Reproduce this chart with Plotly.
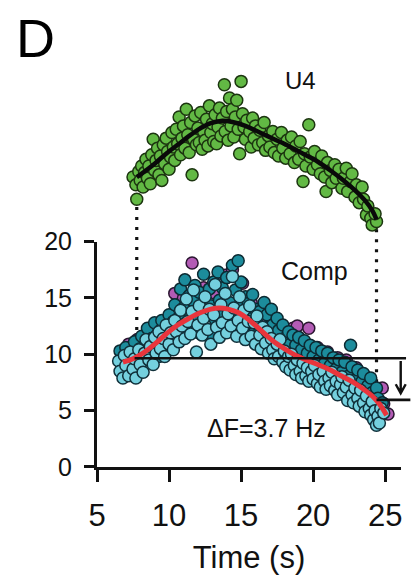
import plotly.graph_objects as go

# ---------------- data ----------------
# U4 unit firing rate (Hz) vs time (s)
u4_t = [7.5, 7.7, 7.76, 7.9, 8.0, 8.1, 8.2, 8.3, 8.4, 8.5, 8.6, 8.7, 8.8, 8.9, 9.0, 9.1, 9.2, 9.3, 9.5, 9.4,
        9.6, 9.7, 9.8, 9.9, 10.0, 10.1, 10.2, 10.3, 10.4, 10.5, 10.6, 10.7, 10.8, 10.9, 11.0, 11.1, 11.2, 11.3,
        11.4, 11.5, 11.6, 11.7, 11.8, 11.9, 12.0, 12.1, 12.2, 12.3, 12.4, 12.5, 12.6, 12.7, 12.8, 12.9, 13.0,
        13.1, 13.2, 13.3, 13.4, 13.5, 13.6, 13.7, 13.84, 13.9, 14.0, 14.1, 14.2, 14.3, 14.4, 14.5, 14.6, 14.7,
        14.8, 14.9, 15.0, 15.1, 15.2, 15.3, 15.4, 15.6, 15.7, 15.8, 15.9, 16.0, 16.2, 16.3, 16.5, 16.6, 16.7,
        16.9, 17.0, 17.2, 17.3, 17.5, 17.6, 17.8, 17.9, 18.1, 18.2, 18.4, 18.5, 18.7, 18.8, 19.0, 19.1, 19.3,
        19.4, 19.5, 19.7, 19.8, 20.0, 20.1, 20.3, 20.5, 20.6, 20.8, 20.9, 21.0, 21.2, 21.3, 21.5, 21.6, 21.8,
        22.0, 22.1, 22.3, 22.4, 22.6, 22.7, 22.9, 23.0, 23.2, 23.4, 23.5, 23.7, 23.8, 24.0, 24.1, 24.4, 24.3]
u4_f = [12.9, 12.2, 10.9, 13.4, 12.6, 13.9, 12.0, 13.3, 14.5, 12.8, 13.9, 12.3, 14.9, 16.3, 13.5, 14.4, 15.5, 13.1, 12.6, 14.8,
        15.8, 14.1, 16.4, 15.2, 13.6, 14.7, 16.9, 15.6, 14.4, 17.2, 15.9, 18.3, 14.9, 16.4, 17.5, 15.5, 19.0, 16.7,
        15.1, 17.8, 13.1, 16.3, 18.4, 15.8, 17.3, 16.0, 18.7, 15.4, 17.0, 16.2, 18.1, 15.7, 19.3, 16.9, 17.7,
        16.1, 18.5, 15.9, 17.4, 19.1, 16.6, 18.2, 21.2, 17.0, 18.8, 16.2, 20.0, 17.5, 19.0, 16.5, 18.3, 19.8,
        17.2, 15.0, 21.5, 18.6, 17.4, 16.3, 18.0, 17.0, 15.6, 18.2, 16.4, 17.5, 15.8, 17.1, 16.0, 17.8, 15.3,
        16.6, 15.6, 17.0, 15.1, 16.3, 14.8, 16.9, 15.5, 14.6, 16.2, 15.0, 16.5, 14.2, 15.7, 14.5, 16.1, 12.5,
        15.0, 13.9, 17.6, 14.7, 13.6, 15.2, 14.0, 13.2, 14.8, 12.9, 11.6, 14.2, 13.5, 12.4, 14.0, 12.8, 13.6,
        11.9, 12.8, 13.7, 11.6, 12.5, 13.2, 11.1, 12.2, 10.6, 12.0, 10.9, 9.5, 10.3, 9.2, 8.6, 8.9, 9.6]
# smoothed U4 rate
u4_fit_t = [7.76, 8.3, 9.0, 9.8, 10.6, 11.4, 12.2, 12.9, 13.6, 14.4, 15.3, 16.3, 17.3, 18.3, 19.3, 20.3,
            21.3, 22.2, 23.0, 23.6, 24.1, 24.4]
u4_fit_f = [12.9, 13.4, 14.1, 15.0, 15.8, 16.6, 17.3, 17.75, 17.95, 17.85, 17.5, 16.9, 16.3, 15.7, 15.0, 14.3,
            13.4, 12.5, 11.6, 10.8, 9.9, 9.1]

# composite discharge: three superimposed units
comp_a_t = [7.2, 7.8, 8.7, 9.6, 10.4, 11.0, 11.6, 12.4, 13.2, 13.9, 14.4, 15.1, 15.7, 16.6, 17.5, 18.4,
            18.6, 18.9, 19.7, 20.3, 21.0, 21.7, 22.3, 23.0, 23.6, 24.0, 24.8, 24.9, 25.2]
comp_a_f = [10.9, 11.3, 11.9, 12.8, 15.4, 15.0, 18.1, 15.9, 15.4, 17.0, 17.5, 16.3, 14.6, 13.2, 12.6, 11.8,
            12.3, 12.5, 12.3, 10.6, 10.2, 9.7, 9.5, 8.8, 7.8, 7.4, 7.0, 5.6, 4.7]

comp_b_t = [6.6, 6.7, 6.9, 7.0, 7.1, 7.2, 7.4, 7.5, 7.6, 7.8, 7.9, 8.0, 8.1, 8.3, 8.4, 8.5, 8.6, 8.8, 8.9,
            9.0, 9.1, 9.3, 9.4, 9.5, 9.6, 9.8, 9.9, 10.0, 10.2, 10.3, 10.4, 10.5, 10.7, 10.8, 10.9, 11.0,
            11.1, 11.2, 11.4, 11.5, 11.6, 11.7, 11.8, 12.0, 12.1, 12.2, 12.3, 12.4, 12.6, 12.7, 12.8, 12.9,
            13.0, 13.1, 13.2, 13.4, 13.5, 13.6, 13.7, 13.8, 14.0, 14.1, 14.2, 14.4, 14.5, 14.6, 14.7, 14.8,
            14.9, 15.0, 15.1, 15.3, 15.4, 15.5, 15.7, 15.8, 15.9, 16.0, 16.2, 16.3, 16.4, 16.6, 16.7, 16.8,
            17.0, 17.1, 17.2, 17.4, 17.5, 17.6, 17.8, 17.9, 18.0, 18.2, 18.3, 18.4, 18.6, 18.7, 18.8, 19.0,
            19.1, 19.2, 19.4, 19.5, 19.6, 19.8, 19.9, 20.0, 20.2, 20.3, 20.4, 20.6, 20.7, 20.8, 21.0, 21.1,
            21.2, 21.4, 21.5, 21.6, 21.8, 21.9, 22.0, 22.2, 22.3, 22.5, 22.6, 22.7, 22.8, 23.0, 23.1, 23.2,
            23.4, 23.5, 23.6, 23.8, 23.9, 24.0, 24.1, 24.3, 24.4, 24.5, 24.7, 24.8]
comp_b_f = [10.3, 9.1, 8.7, 10.6, 9.6, 8.4, 10.0, 9.2, 11.1, 9.7, 8.8, 10.5, 11.6, 9.9, 10.9, 12.3, 9.5, 11.4, 10.2,
            12.8, 11.1, 9.8, 12.1, 13.0, 11.0, 12.4, 10.6, 13.5, 11.7, 12.9, 14.4, 11.3, 13.3, 15.8, 12.4, 14.1,
            16.6, 12.8, 15.2, 13.6, 11.9, 14.7, 16.1, 13.0, 15.5, 11.8, 14.0, 17.1, 13.6, 12.1, 15.8, 14.3,
            11.6, 16.4, 13.1, 17.3, 14.8, 12.3, 15.9, 13.6, 16.8, 12.9, 14.6, 17.9, 13.4, 15.7, 12.2, 18.3,
            14.2, 16.4, 13.0, 15.1, 12.4, 14.5, 13.2, 15.3, 11.9, 14.0, 12.6, 13.8, 11.4, 14.6, 12.4, 13.5,
            11.8, 14.0, 12.6, 11.1, 13.2, 12.1, 10.7, 12.6, 11.4, 10.3, 12.0, 10.9, 11.7, 9.9, 10.8, 11.5,
            9.6, 10.4, 11.2, 9.4, 10.1, 10.8, 9.0, 9.8, 10.6, 8.9, 9.5, 10.3, 8.6, 9.2, 10.1, 8.3,
            9.0, 9.7, 7.9, 8.7, 9.5, 7.6, 8.4, 9.3, 7.5, 8.1, 10.8, 8.9, 7.2, 7.8, 8.6, 6.9,
            7.6, 8.3, 6.5, 7.2, 5.9, 7.9, 6.6, 5.5, 7.0, 6.1, 5.0, 5.7]

comp_c_t = [6.5, 6.6, 6.8, 6.9, 7.0, 7.2, 7.3, 7.5, 7.6, 7.7, 7.9, 8.0, 8.2, 8.3, 8.4, 8.6, 8.7, 8.9, 9.0,
            9.1, 9.3, 9.4, 9.6, 9.7, 9.8, 10.0, 10.1, 10.3, 10.4, 10.5, 10.7, 10.8, 10.9, 11.1, 11.2, 11.3,
            11.5, 11.6, 11.7, 11.9, 12.0, 12.1, 12.3, 12.4, 12.5, 12.7, 12.8, 12.9, 13.1, 13.2, 13.3, 13.5,
            13.6, 13.7, 13.9, 14.0, 14.1, 14.3, 14.4, 14.5, 14.7, 14.8, 14.9, 15.1, 15.2, 15.3, 15.5, 15.6,
            15.7, 15.9, 16.0, 16.1, 16.3, 16.4, 16.5, 16.7, 16.8, 16.9, 17.1, 17.2, 17.3, 17.5, 17.6, 17.7,
            17.9, 18.0, 18.1, 18.3, 18.4, 18.5, 18.7, 18.8, 18.9, 19.1, 19.2, 19.3, 19.5, 19.6, 19.7, 19.9,
            20.0, 20.1, 20.3, 20.4, 20.5, 20.7, 20.8, 20.9, 21.1, 21.2, 21.3, 21.5, 21.6, 21.7, 21.9, 22.0,
            22.1, 22.3, 22.4, 22.5, 22.7, 22.8, 22.9, 23.1, 23.2, 23.3, 23.5, 23.6, 23.7, 23.9, 24.0, 24.1,
            24.2, 24.3, 24.4, 24.5, 24.6, 24.7, 24.9]
comp_c_f = [9.4, 8.5, 7.9, 9.9, 9.0, 8.1, 10.2, 8.7, 9.6, 7.9, 10.4, 9.1, 8.4, 10.1, 11.3, 9.5, 10.7, 9.1, 11.5,
            10.1, 12.0, 10.5, 11.4, 9.8, 12.6, 10.9, 11.9, 10.4, 13.0, 12.0, 11.1, 13.9, 12.5, 11.4, 14.9, 12.9,
            11.8, 13.8, 15.7, 10.2, 12.6, 14.3, 11.7, 13.2, 15.1, 12.2, 14.0, 10.9, 13.5, 16.2, 12.4, 11.5,
            14.4, 12.8, 15.4, 11.9, 13.6, 12.5, 16.9, 14.1, 11.6, 13.0, 15.1, 12.3, 13.9, 11.3, 12.9, 14.3,
            11.6, 12.8, 10.9, 13.4, 11.7, 10.5, 12.4, 11.0, 12.0, 10.1, 11.4, 10.4, 9.6, 10.9, 9.8, 11.3,
            9.3, 10.3, 8.9, 9.8, 8.6, 10.0, 9.0, 8.2, 9.5, 8.5, 7.9, 9.2, 8.1, 8.8, 7.6, 8.5,
            7.8, 9.0, 7.4, 8.2, 7.1, 8.5, 7.6, 6.9, 7.9, 7.2, 8.4, 6.8, 7.6, 6.4, 7.3, 8.0,
            6.6, 7.1, 5.9, 7.7, 6.4, 5.7, 7.0, 6.1, 5.4, 6.8, 5.7, 4.9, 6.3, 5.2, 4.6, 5.8,
            4.2, 5.0, 3.7, 4.5, 3.9, 5.2, 4.8]

# smoothed composite rate
comp_fit_t = [6.8, 7.5, 8.2, 9.0, 9.8, 10.6, 11.4, 12.2, 12.9, 13.5, 14.1, 14.8, 15.6, 16.4, 17.2, 18.0,
              18.8, 19.6, 20.4, 21.2, 22.0, 22.8, 23.5, 24.1, 24.6, 25.1]
comp_fit_f = [9.3, 9.6, 10.1, 10.9, 11.8, 12.6, 13.2, 13.7, 14.0, 14.1, 14.0, 13.7, 13.0, 12.1, 11.2, 10.5,
              9.9, 9.45, 9.05, 8.6, 8.05, 7.5, 6.9, 6.3, 5.6, 4.6]

# rate drop between recruitment and derecruitment
T_ON, T_OFF = 7.76, 24.4
BASE_RATE = 9.65
DELTA_F = 3.7

x_ticks = [5, 10, 15, 20, 25]
y_ticks = [0, 5, 10, 15, 20]

# ---------------- geometry ----------------
FONT = "Liberation Sans, Arial, sans-serif"
INK = "#111111"
W, H = 411, 579
M = dict(l=97, r=9, t=20, b=112)
X_RANGE = [5, 26.1]
Y_RANGE = [0, 20]
Y_DOM = [0, 0.5078]
Y2_RANGE = [7.5, 23.5]
Y2_DOM = [0.5177, 0.9186]
PW = W - M["l"] - M["r"]
PH = H - M["t"] - M["b"]


def xp(t):
    return (t - X_RANGE[0]) / (X_RANGE[1] - X_RANGE[0])


def yp(v, rng=Y_RANGE, dom=Y_DOM):
    return dom[0] + (v - rng[0]) / (rng[1] - rng[0]) * (dom[1] - dom[0])


def y2p(v):
    return yp(v, Y2_RANGE, Y2_DOM)


def dots(fill, edge):
    return dict(size=12, color=fill, line=dict(color=edge, width=1.5))


fig = go.Figure()

# U4 panel
fig.add_trace(go.Scatter(x=u4_t, y=u4_f, mode="markers", yaxis="y2", cliponaxis=False,
                         marker=dots("#62b944", "#1c3510")))
fig.add_trace(go.Scatter(x=u4_fit_t, y=u4_fit_f, mode="lines", yaxis="y2", cliponaxis=False,
                         line=dict(color="#0a0a0a", width=4.5, shape="spline", smoothing=1.0)))

# composite panel: purple unit at the back, dark teal, then light cyan on top
fig.add_trace(go.Scatter(x=comp_a_t, y=comp_a_f, mode="markers", cliponaxis=False,
                         marker=dots("#b35bb5", "#2a1630")))
fig.add_trace(go.Scatter(x=comp_b_t, y=comp_b_f, mode="markers", cliponaxis=False,
                         marker=dots("#1c8c9c", "#0c2a32")))
fig.add_trace(go.Scatter(x=comp_c_t, y=comp_c_f, mode="markers", cliponaxis=False,
                         marker=dots("#74d0de", "#10303a")))
fig.add_trace(go.Scatter(x=comp_fit_t, y=comp_fit_f, mode="lines", cliponaxis=False,
                         line=dict(color="#e8353c", width=5, shape="spline", smoothing=1.0)))

shapes = []
dotted = dict(color=INK, width=3.2, dash="3px,7px")
# dotted links between the two panels at recruitment / derecruitment
shapes.append(dict(type="line", xref="paper", yref="paper", layer="below",
                   x0=xp(T_ON), x1=xp(T_ON), y0=y2p(u4_fit_f[0]), y1=yp(BASE_RATE), line=dotted))
shapes.append(dict(type="line", xref="paper", yref="paper", layer="below",
                   x0=xp(T_OFF), x1=xp(T_OFF), y0=y2p(u4_fit_f[-1]), y1=yp(BASE_RATE - DELTA_F), line=dotted))
# reference levels for the rate drop
solid = dict(color=INK, width=2.6)
shapes.append(dict(type="line", xref="paper", yref="paper", layer="above",
                   x0=xp(T_ON - 0.15), x1=xp(26.45), y0=yp(BASE_RATE), y1=yp(BASE_RATE), line=solid))
shapes.append(dict(type="line", xref="paper", yref="paper", layer="above",
                   x0=xp(T_OFF), x1=xp(26.75), y0=yp(BASE_RATE - DELTA_F), y1=yp(BASE_RATE - DELTA_F), line=solid))
# downward arrow
ax = xp(26.08)
a_top = yp(BASE_RATE - 0.25)
a_tip = yp(BASE_RATE - DELTA_F + 0.6)
hx, hy = 5 / PW, 9 / PH
shapes.append(dict(type="path", xref="paper", yref="paper", layer="above",
                   path=f"M {ax},{a_top} L {ax},{a_tip} M {ax - hx},{a_tip + hy} L {ax},{a_tip} L {ax + hx},{a_tip + hy}",
                   line=dict(color=INK, width=2.4)))

annotations = [
    dict(text="D", xref="paper", yref="paper", x=(35 - M["l"]) / PW, y=(H - M["b"] - 3) / PH,
         showarrow=False, font=dict(family=FONT, size=54, color="#000000"), xanchor="center", yanchor="top"),
    dict(text="U4", xref="x", yref="y2", x=19.1, y=21.6, showarrow=False,
         font=dict(family=FONT, size=24, color=INK), xanchor="center", yanchor="middle"),
    dict(text="Comp", xref="x", yref="y", x=20.07, y=17.36, showarrow=False,
         font=dict(family=FONT, size=25, color=INK), xanchor="center", yanchor="middle"),
    dict(text=f"\u0394F={DELTA_F} Hz", xref="x", yref="y", x=16.76, y=3.44, showarrow=False,
         font=dict(family=FONT, size=25, color=INK), xanchor="center", yanchor="middle"),
]

fig.update_layout(
    width=W, height=H, margin=M, showlegend=False,
    paper_bgcolor="white", plot_bgcolor="white",
    font=dict(family=FONT, color=INK),
    xaxis=dict(range=X_RANGE, tickvals=x_ticks, showgrid=False, zeroline=False,
               showline=True, linecolor=INK, linewidth=3,
               ticks="outside", ticklen=12, tickwidth=3, tickcolor=INK,
               tickfont=dict(family=FONT, size=31, color=INK), ticklabelstandoff=7,
               title=dict(text="Time (s)", font=dict(family=FONT, size=31, color=INK), standoff=15),
               anchor="y"),
    yaxis=dict(range=Y_RANGE, domain=Y_DOM, tickvals=y_ticks, showgrid=False, zeroline=False,
               showline=True, linecolor=INK, linewidth=3,
               ticks="outside", ticklen=10, tickwidth=3, tickcolor=INK,
               tickfont=dict(family=FONT, size=25, color=INK), ticklabelstandoff=7),
    yaxis2=dict(range=Y2_RANGE, domain=Y2_DOM, visible=False, anchor="x"),
    shapes=shapes, annotations=annotations,
)

fig.write_html("out.html")
